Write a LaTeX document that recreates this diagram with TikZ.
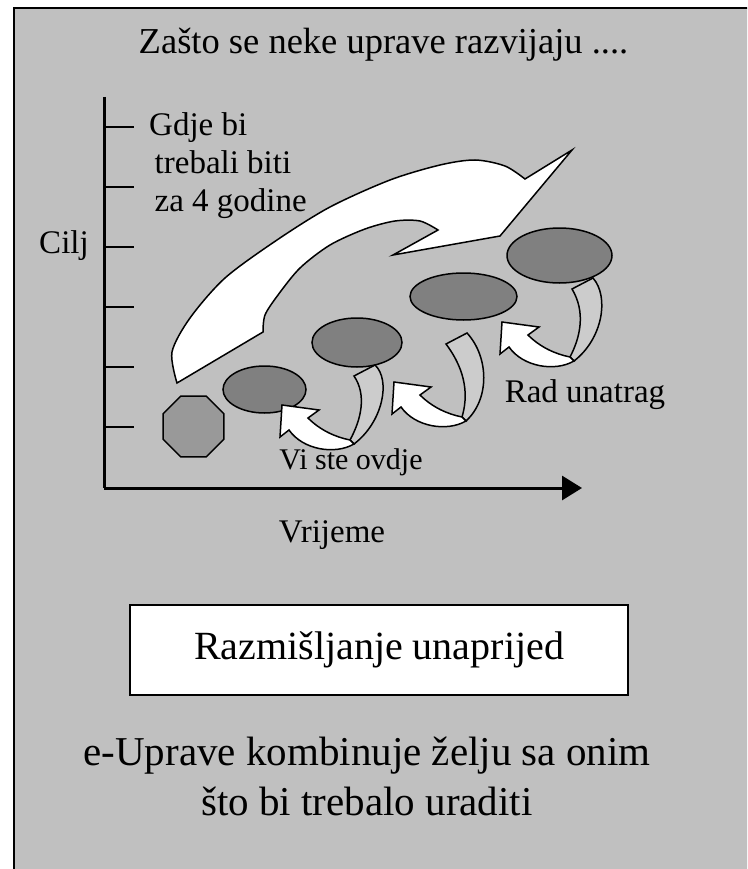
\documentclass[tikz,border=0pt]{standalone}
\usepackage{fontspec}
\setmainfont{Liberation Serif}
\usetikzlibrary{arrows.meta,positioning,shapes.geometric}
\definecolor{panel}{HTML}{C0C0C0}
\definecolor{blob}{HTML}{808080}
\definecolor{stopc}{HTML}{999999}
\definecolor{ribbon}{HTML}{CCCCCC}
\tikzset{
  lbl/.style={font=\fontsize{33}{38}\selectfont, inner sep=0pt},
  stage/.style={draw, ellipse, fill=blob, line width=1.5pt, inner sep=0pt},
  start/.style={draw, regular polygon, regular polygon sides=8, fill=stopc, line width=1.5pt, inner sep=0pt, minimum size=66pt},
  axis/.style={line width=3pt},
  tick/.style={line width=2pt},
  outline/.style={draw, line width=1.5pt, line join=miter},
}
\begin{document}
\begin{tikzpicture}[x=1pt, y=-1pt]
  \useasboundingbox (0,0) rectangle (747,869);
  \clip (0,0) rectangle (747,869);
  % panel
  \draw[fill=panel, line width=2.5pt] (14,8) rectangle (800,920);
  % title
  \node[font=\fontsize{36.5}{42}\selectfont] (title) at (383.5,45) {Zašto se neke uprave razvijaju ....};
  % axes
  \coordinate (org) at (104,488);
  \coordinate (ytop) at (104,97);
  \coordinate (xend) at (582,488);
  \draw[axis] (ytop) -- (org);
  \draw[axis, -{Triangle[length=20pt, width=24pt]}] (org) -- (xend);
  \foreach \y in {127,187,...,427}
    \draw[tick] (104,\y) -- ++(30,0);
  \node[lbl] (cilj) at (64,246) {Cilj};
  \node[lbl, align=left, anchor=north west] (goal) at (149,112)
    {Gdje bi\\ \,trebali biti\\ \,za 4 godine};
  \node[lbl] (time) at (332,535) {Vrijeme};
  % big forward arrow
  \draw[outline, fill=white]
    plot[smooth] coordinates {(177,383) (172,352) (190,318) (225,278) (277,240)
      (330,207) (390,180) (440,165) (475,160) (505,166) (525,179)}
    -- (572,150) -- (500,236) -- (393,255) -- (438,230)
    -- plot[smooth] coordinates {(438,230) (420,221) (395,221) (365,229) (330,245)
      (300,268) (278,295) (265,315) (263,332)}
    -- cycle;
  % stages
  \node[start] (now) at (193.5,426.5) {};
  \node[stage, minimum width=83pt, minimum height=47pt] (s1) at (264.5,389.5) {};
  \node[stage, minimum width=90pt, minimum height=49pt] (s2) at (357,342.5) {};
  \node[stage, minimum width=107pt, minimum height=47pt] (s3) at (463.5,296.5) {};
  \node[stage, minimum width=105pt, minimum height=55pt] (s4) at (559.5,255.5) {};
  % backward arrows (twist point, lean and height of the ribbon)
  \foreach \tx/\ty/\lean/\h in {350/440/20/64, 462/417/0/73, 570/357/18/68}{
    \begin{scope}[shift={(\tx,\ty)}]
      \draw[outline, fill=ribbon] ({-16+\lean},-\h) -- ({5+\lean},{-\h-11})
        .. controls ({27+0.7*\lean},-60) and ({28+0.25*\lean},-18) .. (4,4)
        -- (0,0) .. controls ({6+0.25*\lean},-20) and ({5+0.6*\lean},-45) .. ({-16+\lean},-\h) -- cycle;
      \draw[outline, fill=white] (4,4) .. controls (-15,15) and (-47,10) .. (-61,-10)
        -- (-70,-3) -- (-68,-35) -- (-31,-30) -- (-42,-22)
        .. controls (-30,-10) and (-15,-3) .. (0,0) -- cycle;
    \end{scope}
  }
  \node[lbl, font=\fontsize{30}{36}\selectfont] (here) at (351,462) {Vi ste ovdje};
  \node[lbl] (back) at (585,395) {Rad unatrag};
  % thinking ahead
  \node[draw, fill=white, line width=2pt, minimum width=498pt, minimum height=90pt,
    font=\fontsize{40}{46}\selectfont] (ahead) at (379,650) {Razmišljanje unaprijed};
  \node[align=center, font=\fontsize{41}{50}\selectfont] (egov) at (367,776)
    {e-Uprave kombinuje želju sa onim\\ što bi trebalo uraditi};
\end{tikzpicture}
\end{document}
